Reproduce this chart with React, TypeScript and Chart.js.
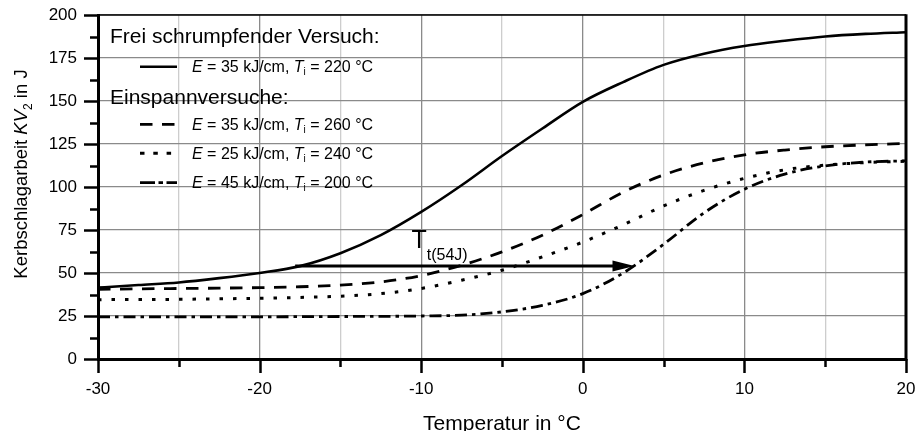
import React, { useEffect, useRef } from 'react';
import { Chart, registerables } from 'chart.js';

Chart.register(...registerables);

// ---------- data ----------
const temperatures = [-30, -27.5, -25, -22.5, -20, -17.5, -15, -12.5, -10, -7.5, -5, -2.5, 0, 2.5, 5, 7.5, 10, 12.5, 15, 17.5, 20];
const freiE35T220 = [41.5, 43, 44.5, 47, 50, 54, 61.5, 72, 85.5, 101, 118, 134, 149.5, 161, 171, 177.5, 182, 185, 187.5, 189, 190];
const einE35T260 = [40.5, 40.8, 41, 41.2, 41.5, 42, 43, 44.8, 48.5, 54.5, 62.3, 72, 84, 97, 107, 114, 118.7, 121.5, 123.4, 124.5, 125.3];
const einE25T240 = [34.5, 34.6, 34.7, 35, 35.3, 35.8, 36.5, 38, 41, 45.8, 51.6, 59.4, 68, 78, 89, 98, 105, 110, 112.7, 114.2, 115];
const einE45T200 = [24.5, 24.5, 24.5, 24.5, 24.5, 24.6, 24.7, 24.8, 25, 25.5, 27.4, 31.2, 38, 50, 66.7, 85, 98.7, 107.5, 112.3, 114.5, 115.2];

const legendEnergies = [35, 35, 25, 45];
const legendInterpass = [220, 260, 240, 200];
const legendHeadings = ['Frei schrumpfender Versuch:', 'Einspannversuche:'];

const arrowFromX = -17.8;
const arrowToX = 3.2;
const arrowLevel = 54;

const xTitle = 'Temperatur in °C';
const yTitleMain = 'Kerbschlagarbeit ';
const yTitleSymbol = 'KV';
const yTitleIndex = '2';
const yTitleUnit = ' in J';
const annotationMain = 'T';
const annotationSub = 't(54J)';

const FONT = '"Liberation Sans", Arial, Helvetica, sans-serif';

const toPoints = (ys: number[]) => temperatures.map((t, i) => ({ x: t, y: ys[i] }));

type Run = { text: string; size: number; italic?: boolean; dy?: number };

function runsWidth(ctx: CanvasRenderingContext2D, runs: Run[]) {
  let w = 0;
  for (const r of runs) {
    ctx.font = `${r.italic ? 'italic ' : ''}${r.size}px ${FONT}`;
    w += ctx.measureText(r.text).width;
  }
  return w;
}

function drawRuns(ctx: CanvasRenderingContext2D, runs: Run[], x: number, y: number) {
  let cx = x;
  for (const r of runs) {
    ctx.font = `${r.italic ? 'italic ' : ''}${r.size}px ${FONT}`;
    ctx.fillText(r.text, cx, y + (r.dy || 0));
    cx += ctx.measureText(r.text).width;
  }
  return cx;
}

const legendDashes: number[][] = [[], [12.5, 9.5], [4.5, 8.8], [15, 3.5, 4.5, 3.5]];

const decorPlugin = {
  id: 'decor',
  afterDraw(chart: any) {
    const { ctx, chartArea: a, scales } = chart;
    const xs = scales.x;
    const ys = scales.y;
    ctx.save();
    ctx.strokeStyle = '#000';
    ctx.fillStyle = '#000';
    ctx.setLineDash([]);
    const seg = (x1: number, y1: number, x2: number, y2: number) => {
      ctx.beginPath();
      ctx.moveTo(x1, y1);
      ctx.lineTo(x2, y2);
      ctx.stroke();
    };
    // frame
    ctx.lineWidth = 1.5;
    seg(a.left, a.top, a.right, a.top);
    ctx.lineWidth = 3;
    seg(a.right, a.top - 0.75, a.right, a.bottom + 1.5);
    // tick marks
    ctx.lineWidth = 2.5;
    for (let v = 0; v <= 200; v += 12.5) {
      const py = Math.round(ys.getPixelForValue(v)) + 0.5;
      const len = v % 25 === 0 ? 14 : 8;
      seg(a.left - len, py, a.left, py);
    }
    for (let v = -30; v <= 20; v += 5) {
      const px = Math.round(xs.getPixelForValue(v)) + 0.5;
      const len = v % 10 === 0 ? 14 : 8;
      seg(px, a.bottom, px, a.bottom + len);
    }
    // arrow
    const tipX = xs.getPixelForValue(arrowToX);
    const ay = ys.getPixelForValue(arrowLevel);
    ctx.beginPath();
    ctx.moveTo(tipX, ay);
    ctx.lineTo(tipX - 22, ay - 5.5);
    ctx.lineTo(tipX - 22, ay + 5.5);
    ctx.closePath();
    ctx.fill();
    // annotation T_t(54J)
    ctx.textAlign = 'left';
    ctx.textBaseline = 'alphabetic';
    const tx = xs.getPixelForValue(-10.6);
    const tyb = ys.getPixelForValue(64.5);
    ctx.font = `25px ${FONT}`;
    ctx.fillText(annotationMain, tx, tyb);
    const tw = ctx.measureText(annotationMain).width;
    ctx.font = `16px ${FONT}`;
    ctx.fillText(annotationSub, tx + tw, tyb + 12);

    // legend
    const ds = chart.data.datasets;
    ctx.font = `21px ${FONT}`;
    ctx.fillText(legendHeadings[0], 110, 43);
    ctx.fillText(legendHeadings[1], 110, 104);
    const rowsLine = [66.7, 124.3, 153.3, 182.7];
    for (let i = 0; i < 4; i++) {
      const d = ds[i];
      ctx.save();
      ctx.lineWidth = d.borderWidth;
      ctx.setLineDash(legendDashes[i]);
      ctx.lineCap = 'butt';
      seg(140, rowsLine[i], 177, rowsLine[i]);
      ctx.restore();
      const runs: Run[] = [
        { text: 'E', size: 16, italic: true },
        { text: ` = ${legendEnergies[i]} kJ/cm, `, size: 16 },
        { text: 'T', size: 16, italic: true },
        { text: 'i', size: 10, dy: 3 },
        { text: ` = ${legendInterpass[i]} °C`, size: 16 },
      ];
      drawRuns(ctx, runs, 192, rowsLine[i] + 5.5);
    }

    // x title
    ctx.font = `21px ${FONT}`;
    ctx.textAlign = 'center';
    ctx.fillText(xTitle, (a.left + a.right) / 2, 430);

    // y title (rotated)
    ctx.textAlign = 'left';
    const yRuns: Run[] = [
      { text: yTitleMain, size: 18.5 },
      { text: yTitleSymbol, size: 18.5, italic: true },
      { text: yTitleIndex, size: 12, dy: 5 },
      { text: yTitleUnit, size: 18.5 },
    ];
    const w = runsWidth(ctx, yRuns);
    ctx.translate(27, 174);
    ctx.rotate(-Math.PI / 2);
    drawRuns(ctx, yRuns, -w / 2, 0);
    ctx.restore();
  },
};

export default function App() {
  const ref = useRef<HTMLCanvasElement>(null);
  useEffect(() => {
    if (!ref.current) return;
    const line = (data: number[], dash: number[], width: number) => ({
      data: toPoints(data),
      borderColor: '#000',
      backgroundColor: '#000',
      borderWidth: width,
      borderDash: dash,
      pointRadius: 0,
      cubicInterpolationMode: 'monotone' as const,
      fill: false,
    });
    const chart = new Chart(ref.current, {
      type: 'line',
      data: {
        datasets: [
          line(freiE35T220, [], 2.6),
          line(einE35T260, [12.5, 9.5], 2.8),
          line(einE25T240, [3.5, 10], 3),
          line(einE45T200, [12, 5, 3.5, 5], 2.8),
          {
            data: [{ x: arrowFromX, y: arrowLevel }, { x: arrowToX - 10 / 16, y: arrowLevel }],
            borderColor: '#000',
            borderWidth: 3,
            pointRadius: 0,
            fill: false,
          } as any,
        ],
      },
      options: {
        responsive: false,
        animation: false,
        devicePixelRatio: 1,
        layout: { padding: { left: 0, right: 11, top: 15, bottom: 0 } },
        plugins: { legend: { display: false }, tooltip: { enabled: false } },
        scales: {
          x: {
            type: 'linear',
            min: -30,
            max: 20,
            afterFit: (s: any) => { s.height = 72; s.paddingLeft = 0; s.paddingRight = 0; },
            ticks: {
              stepSize: 5,
              autoSkip: false,
              maxRotation: 0,
              padding: 20,
              color: '#000',
              font: { family: FONT, size: 17 },
              callback: (v: any) => (Number(v) % 10 === 0 ? String(v) : ''),
            },
            grid: {
              drawTicks: false,
              lineWidth: 1.3,
              color: (c: any) => (c.tick && c.tick.value % 10 === 0 ? '#8a8a8a' : '#cdcdcd'),
            },
            border: { display: true, color: '#000', width: 3 },
          },
          y: {
            type: 'linear',
            min: 0,
            max: 200,
            afterFit: (s: any) => { s.width = 98; s.paddingTop = 0; s.paddingBottom = 0; },
            ticks: {
              stepSize: 25,
              padding: 21,
              color: '#000',
              font: { family: FONT, size: 17 },
            },
            grid: { drawTicks: false, lineWidth: 1.3, color: '#8a8a8a' },
            border: { display: true, color: '#000', width: 3 },
          },
        },
      },
      plugins: [decorPlugin],
    });
    return () => chart.destroy();
  }, []);
  return (
    <div style={{ position: 'fixed', left: 0, top: 0, width: 917, height: 431, background: '#fff' }}>
      <canvas ref={ref} width={917} height={431} style={{ width: 917, height: 431, display: 'block' }} />
    </div>
  );
}
